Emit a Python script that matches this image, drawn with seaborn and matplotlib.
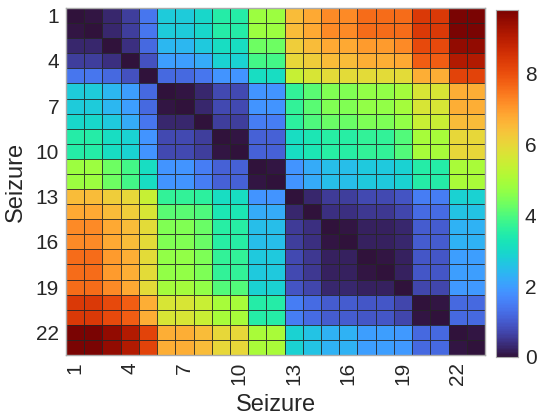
import numpy as np
import matplotlib
matplotlib.use("Agg")
import matplotlib.pyplot as plt
import seaborn as sns

seizures = list(range(1, 24))
tick_labels = ["1", "4", "7", "10", "13", "16", "19", "22"]
cbar_ticks = [0, 2, 4, 6, 8]

distance = [
    [0, 0.05, 0.3, 0.6, 1.4, 2.75, 2.75, 2.95, 3.5, 3.5, 4.8, 4.8, 6.5, 6.8, 7.2, 7.2, 7.6, 7.6, 7.6, 8.4, 8.4, 9.8, 9.8],
    [0.05, 0, 0.3, 0.6, 1.4, 2.75, 2.75, 2.95, 3.5, 3.5, 4.8, 4.8, 6.5, 6.8, 7.2, 7.2, 7.6, 7.6, 7.6, 8.4, 8.4, 9.8, 9.8],
    [0.3, 0.3, 0, 0.4, 1.2, 2.4, 2.4, 2.7, 3.1, 3.1, 4.3, 4.3, 6.2, 6.5, 6.8, 6.8, 7.0, 7.0, 7.2, 8.1, 8.1, 9.5, 9.5],
    [0.6, 0.6, 0.4, 0, 0.85, 2.0, 2.0, 2.2, 2.85, 2.85, 3.9, 3.9, 6.0, 6.2, 6.5, 6.5, 6.7, 6.7, 6.8, 7.8, 7.8, 9.1, 9.1],
    [1.4, 1.4, 1.2, 0.85, 0, 1.2, 1.2, 1.4, 1.85, 1.85, 3.1, 3.1, 5.4, 5.7, 5.9, 5.9, 5.9, 5.9, 5.9, 6.7, 6.7, 8.2, 8.2],
    [2.75, 2.75, 2.4, 2.0, 1.2, 0, 0.05, 0.3, 0.75, 0.75, 1.85, 1.85, 3.7, 4.1, 4.5, 4.5, 4.7, 4.7, 4.9, 5.7, 5.7, 6.7, 6.7],
    [2.75, 2.75, 2.4, 2.0, 1.2, 0.05, 0, 0.3, 0.75, 0.75, 1.85, 1.85, 3.7, 4.1, 4.5, 4.5, 4.7, 4.7, 4.9, 5.7, 5.7, 6.7, 6.7],
    [2.95, 2.95, 2.7, 2.2, 1.4, 0.3, 0.3, 0, 0.6, 0.6, 1.5, 1.5, 3.6, 4.0, 4.25, 4.25, 4.45, 4.45, 4.7, 5.45, 5.45, 6.5, 6.5],
    [3.5, 3.5, 3.1, 2.85, 1.85, 0.75, 0.75, 0.6, 0, 0.05, 1.1, 1.1, 3.1, 3.3, 3.55, 3.55, 3.7, 3.7, 4.05, 4.95, 4.95, 6.0, 6.0],
    [3.5, 3.5, 3.1, 2.85, 1.85, 0.75, 0.75, 0.6, 0.05, 0, 1.1, 1.1, 3.1, 3.3, 3.55, 3.55, 3.7, 3.7, 4.05, 4.95, 4.95, 6.0, 6.0],
    [4.8, 4.8, 4.3, 3.9, 3.1, 1.85, 1.85, 1.5, 1.1, 1.1, 0, 0.05, 1.85, 2.2, 2.5, 2.5, 2.7, 2.7, 2.85, 3.5, 3.5, 5.0, 5.0],
    [4.8, 4.8, 4.3, 3.9, 3.1, 1.85, 1.85, 1.5, 1.1, 1.1, 0.05, 0, 1.85, 2.2, 2.5, 2.5, 2.7, 2.7, 2.85, 3.5, 3.5, 5.0, 5.0],
    [6.5, 6.5, 6.2, 6.0, 5.4, 3.7, 3.7, 3.6, 3.1, 3.1, 1.85, 1.85, 0, 0.3, 0.55, 0.6, 0.75, 0.75, 0.9, 1.5, 1.5, 2.85, 2.85],
    [6.8, 6.8, 6.5, 6.2, 5.7, 4.1, 4.1, 4.0, 3.3, 3.3, 2.2, 2.2, 0.3, 0, 0.4, 0.4, 0.5, 0.5, 0.7, 1.25, 1.25, 2.6, 2.6],
    [7.2, 7.2, 6.8, 6.5, 5.9, 4.5, 4.5, 4.25, 3.55, 3.55, 2.5, 2.5, 0.55, 0.4, 0, 0.05, 0.2, 0.2, 0.3, 1.0, 1.0, 2.3, 2.3],
    [7.2, 7.2, 6.8, 6.5, 5.9, 4.5, 4.5, 4.25, 3.55, 3.55, 2.5, 2.5, 0.6, 0.4, 0.05, 0, 0.2, 0.2, 0.3, 1.0, 1.0, 2.3, 2.3],
    [7.6, 7.6, 7.0, 6.7, 5.9, 4.7, 4.7, 4.45, 3.7, 3.7, 2.7, 2.7, 0.75, 0.5, 0.2, 0.2, 0, 0.05, 0.2, 0.95, 0.95, 2.0, 2.0],
    [7.6, 7.6, 7.0, 6.7, 5.9, 4.7, 4.7, 4.45, 3.7, 3.7, 2.7, 2.7, 0.75, 0.5, 0.2, 0.2, 0.05, 0, 0.2, 0.95, 0.95, 2.0, 2.0],
    [7.6, 7.6, 7.2, 6.8, 5.9, 4.9, 4.9, 4.7, 4.05, 4.05, 2.85, 2.85, 0.9, 0.7, 0.3, 0.3, 0.2, 0.2, 0, 0.7, 0.7, 1.95, 1.95],
    [8.4, 8.4, 8.1, 7.8, 6.7, 5.7, 5.7, 5.45, 4.95, 4.95, 3.5, 3.5, 1.5, 1.25, 1.0, 1.0, 0.95, 0.95, 0.7, 0, 0.05, 1.2, 1.2],
    [8.4, 8.4, 8.1, 7.8, 6.7, 5.7, 5.7, 5.45, 4.95, 4.95, 3.5, 3.5, 1.5, 1.25, 1.0, 1.0, 0.95, 0.95, 0.7, 0.05, 0, 1.2, 1.2],
    [9.8, 9.8, 9.5, 9.1, 8.2, 6.7, 6.7, 6.5, 6.0, 6.0, 5.0, 5.0, 2.85, 2.6, 2.3, 2.3, 2.0, 2.0, 1.95, 1.2, 1.2, 0, 0.05],
    [9.8, 9.8, 9.5, 9.1, 8.2, 6.7, 6.7, 6.5, 6.0, 6.0, 5.0, 5.0, 2.85, 2.6, 2.3, 2.3, 2.0, 2.0, 1.95, 1.2, 1.2, 0.05, 0],
]

sns.set_style("white")
plt.rcParams['font.family'] = ['Liberation Sans', 'DejaVu Sans']

fig = plt.figure(figsize=(5.37, 4.16), dpi=100)
ax = fig.add_axes([66/537, 1-355/416, 419/537, 347/416])
cax = fig.add_axes([496/537, 1-357/416, 22/537, 347/416])

sns.heatmap(np.array(distance), ax=ax, cbar_ax=cax, cmap="turbo", vmin=0, vmax=9.8,
            linewidths=0.5, linecolor=(0.15, 0.15, 0.15, 0.85), square=False,
            xticklabels=False, yticklabels=False)

pos = [int(t) - 0.5 for t in tick_labels]
ax.set_xticks(pos)
ax.set_xticklabels(tick_labels, rotation=90, fontsize=15, color="#262626")
ax.set_yticks(pos)
ax.set_yticklabels(tick_labels, rotation=0, fontsize=15, color="#262626")
ax.tick_params(length=0, pad=5)
ax.set_xlabel("Seizure", fontsize=17, color="#262626", labelpad=6)
ax.set_ylabel("Seizure", fontsize=17, color="#262626", labelpad=6)
for s in ax.spines.values():
    s.set_visible(True)
    s.set_color("#aaaaaa")
    s.set_linewidth(1)

cax.set_yticks(cbar_ticks)
cax.tick_params(direction="in", length=4, color="#888888", labelsize=15, labelcolor="#262626", pad=5)
for s in cax.spines.values():
    s.set_visible(True)
    s.set_color("#aaaaaa")

fig.savefig("out.png", dpi=100)
